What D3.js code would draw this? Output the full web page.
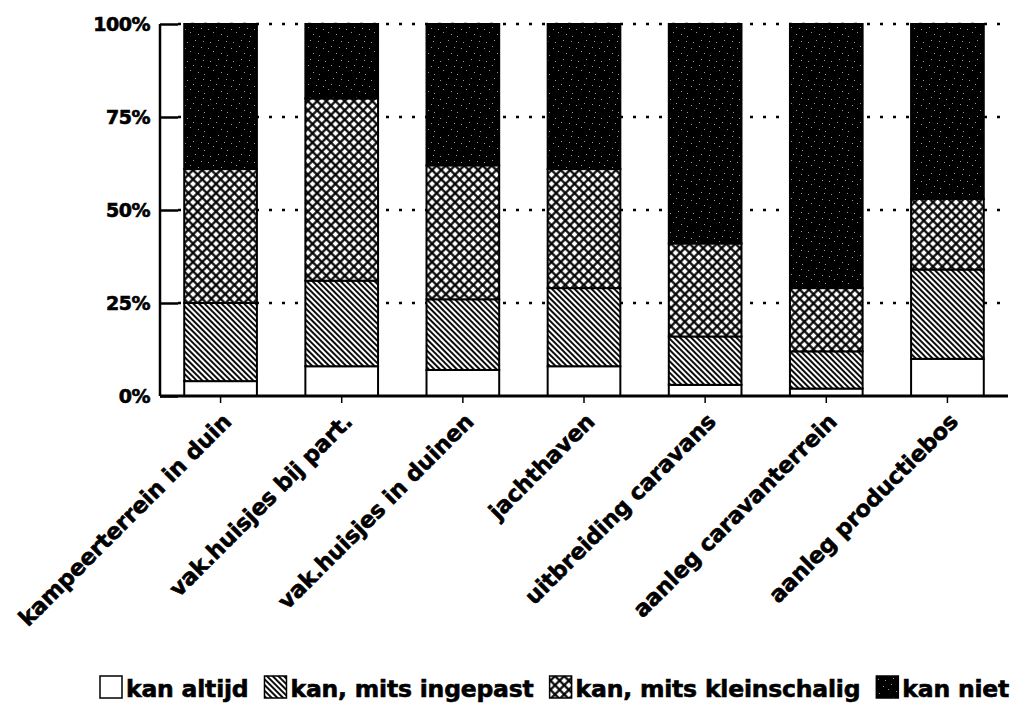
<!DOCTYPE html>
<html>
<head>
<meta charset="utf-8">
<script src="https://cdn.jsdelivr.net/npm/d3@7"></script>
<style>
  body { margin: 0; background: #fff; }
  svg { display: block; }
  text { font-family: "DejaVu Sans", Arial, sans-serif; font-weight: bold; fill: #000; }
</style>
</head>
<body>
<svg id="chart" width="1031" height="721"></svg>
<script>
// categories and series (percent of answers)
const categories = ['kampeerterrein in duin', 'vak.huisjes bij part.', 'vak.huisjes in duinen',
  'jachthaven', 'uitbreiding caravans', 'aanleg caravanterrein', 'aanleg productiebos'];
const series = ['kan altijd', 'kan, mits ingepast', 'kan, mits kleinschalig', 'kan niet'];
const kanAltijd = [4, 8, 7, 8, 3, 2, 10];
const mitsIngepast = [21, 23, 19, 21, 13, 10, 24];
const mitsKleinschalig = [36, 49, 36, 32, 25, 17, 19];
const kanNiet = [39, 20, 38, 39, 59, 71, 47];
const yTicks = [0, 25, 50, 75, 100];

const svg = d3.select('#chart');
const plotL = 160, plotR = 1008, plotT = 24, plotB = 396;

const table = categories.map((c, i) => ({
  cat: c,
  'kan altijd': kanAltijd[i],
  'kan, mits ingepast': mitsIngepast[i],
  'kan, mits kleinschalig': mitsKleinschalig[i],
  'kan niet': kanNiet[i]
}));
const stacked = d3.stack().keys(series)(table);

const x = d3.scaleBand().domain(categories).range([plotL, plotR]).paddingInner(0.4).paddingOuter(0.2);
const y = d3.scaleLinear().domain([0, 100]).range([plotB, plotT]);

// patterns
const defs = svg.append('defs');
let p = defs.append('pattern').attr('id', 'diag').attr('patternUnits', 'userSpaceOnUse')
  .attr('width', 4).attr('height', 4).attr('patternTransform', 'rotate(-45)');
p.append('rect').attr('width', 4).attr('height', 4).attr('fill', '#fff');
p.append('line').attr('x1', 2).attr('y1', 0).attr('x2', 2).attr('y2', 4)
  .attr('stroke', '#000').attr('stroke-width', 1.9);

p = defs.append('pattern').attr('id', 'cross').attr('patternUnits', 'userSpaceOnUse')
  .attr('width', 6.5).attr('height', 6.5).attr('patternTransform', 'rotate(45)');
p.append('rect').attr('width', 6.5).attr('height', 6.5).attr('fill', '#fff');
p.append('line').attr('x1', 3.25).attr('y1', 0).attr('x2', 3.25).attr('y2', 6.5)
  .attr('stroke', '#000').attr('stroke-width', 2.2);
p.append('line').attr('x1', 0).attr('y1', 3.25).attr('x2', 6.5).attr('y2', 3.25)
  .attr('stroke', '#000').attr('stroke-width', 2.2);

p = defs.append('pattern').attr('id', 'dark').attr('patternUnits', 'userSpaceOnUse')
  .attr('width', 23).attr('height', 19);
p.append('rect').attr('width', 23).attr('height', 19).attr('fill', '#000');
[[3, 4], [11, 2], [17, 9], [6, 13], [14, 15], [20, 17], [9, 8], [1, 10], [19, 3]].forEach(d => {
  p.append('rect').attr('x', d[0]).attr('y', d[1]).attr('width', 1).attr('height', 1).attr('fill', '#999');
});

const fills = {
  'kan altijd': '#fff',
  'kan, mits ingepast': 'url(#diag)',
  'kan, mits kleinschalig': 'url(#cross)',
  'kan niet': 'url(#dark)'
};

// dotted gridlines
svg.append('g').selectAll('line').data(yTicks.filter(d => d > 0)).join('line')
  .attr('x1', plotL + 18).attr('x2', plotR)
  .attr('y1', d => y(d)).attr('y2', d => y(d))
  .attr('stroke', '#000').attr('stroke-width', 2.5).attr('stroke-dasharray', '3,10');

// y axis
const yAxis = svg.append('g').attr('transform', `translate(${plotL},0)`)
  .call(d3.axisLeft(y).tickValues(yTicks).tickSize(-18).tickFormat(d => d + '%').tickPadding(10));
yAxis.select('.domain').attr('stroke-width', 2.5).attr('d', `M0,${plotT}V${plotB}`);
yAxis.selectAll('.tick line').attr('stroke-width', 2.5);
yAxis.selectAll('.tick text').attr('x', -10).style('font-size', '19px')
  .style('font-family', '"DejaVu Sans", Arial, sans-serif').style('font-weight', 'bold')
  .style('letter-spacing', '-0.5px')
  .attr('stroke', '#000').attr('stroke-width', 0.6);

// bars
svg.append('g').selectAll('g').data(stacked).join('g')
  .attr('fill', d => fills[d.key])
  .selectAll('rect').data(d => d).join('rect')
  .attr('x', d => x(d.data.cat))
  .attr('width', x.bandwidth())
  .attr('y', d => y(d[1]))
  .attr('height', d => y(d[0]) - y(d[1]))
  .attr('stroke', '#000').attr('stroke-width', 2);

// x axis
const xAxis = svg.append('g').attr('transform', `translate(0,${plotB})`)
  .call(d3.axisBottom(x).tickSize(7).tickFormat(''));
xAxis.select('.domain').attr('stroke-width', 3).attr('d', `M${plotL},0H${plotR}`);
xAxis.selectAll('.tick line').attr('stroke-width', 1.5);

svg.append('g').selectAll('text').data(categories).join('text')
  .attr('transform', d => `translate(${x(d) + x.bandwidth() / 2 + 12},${plotB + 27}) rotate(-45)`)
  .attr('text-anchor', 'end')
  .style('font-size', '22.5px').style('letter-spacing', '-0.2px')
  .attr('stroke', '#000').attr('stroke-width', 0.6)
  .text(d => d);

// legend
const legend = svg.append('g').attr('transform', 'translate(100,676)');
let lx = 0;
series.forEach(s => {
  legend.append('rect').attr('x', lx).attr('y', 0).attr('width', 22).attr('height', 22)
    .attr('fill', fills[s]).attr('stroke', '#000').attr('stroke-width', 1.5);
  const t = legend.append('text').attr('x', lx + 26).attr('y', 21)
    .style('font-size', '23.5px').style('letter-spacing', '-0.2px')
    .attr('stroke', '#000').attr('stroke-width', 0.6).text(s);
  lx += 26 + t.node().getComputedTextLength() + 16;
});
</script>
</body>
</html>
